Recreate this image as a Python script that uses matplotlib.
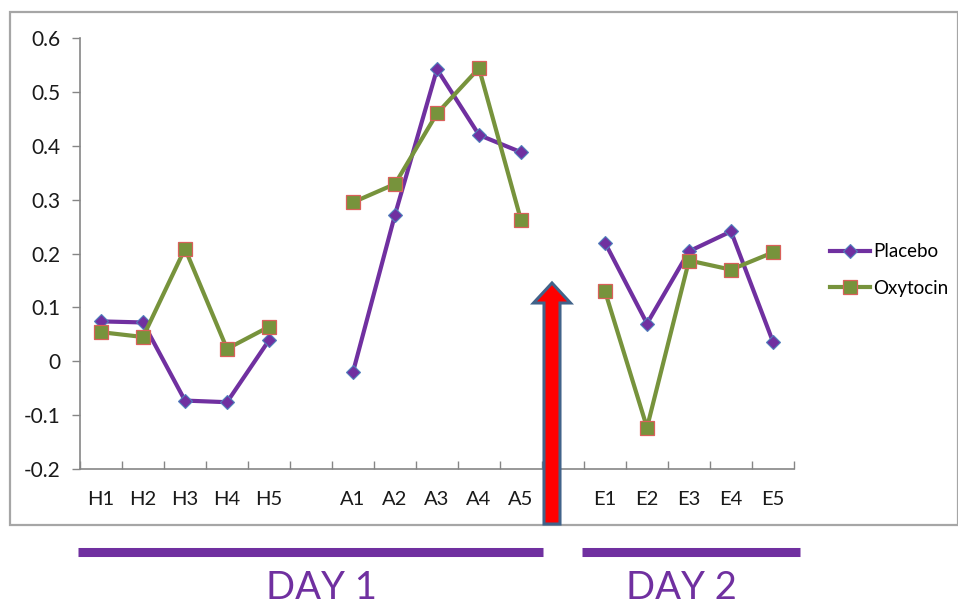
import numpy as np
import matplotlib
matplotlib.use('Agg')
import matplotlib.pyplot as plt
import matplotlib.patches as mpatches
from matplotlib.ticker import FixedLocator

# categories (blank entries are the gaps between sessions)
categories = ['H1', 'H2', 'H3', 'H4', 'H5', '',
              'A1', 'A2', 'A3', 'A4', 'A5', '',
              'E1', 'E2', 'E3', 'E4', 'E5']
nan = np.nan
placebo = [0.074, 0.072, -0.073, -0.076, 0.039, nan,
           -0.020, 0.272, 0.542, 0.420, 0.388, nan,
           0.220, 0.070, 0.204, 0.241, 0.036]
oxytocin = [0.054, 0.045, 0.209, 0.023, 0.064, nan,
            0.295, 0.329, 0.460, 0.544, 0.262, nan,
            0.130, -0.123, 0.187, 0.170, 0.202]
yticks = [-0.2, -0.1, 0, 0.1, 0.2, 0.3, 0.4, 0.5, 0.6]
ytick_labels = ['-0.2', '-0.1', '0', '0.1', '0.2', '0.3', '0.4', '0.5', '0.6']
day_labels = ['DAY 1', 'DAY 2']

purple = '#7030A0'
green = '#77933C'
axis_gray = '#868686'

plt.rcParams['font.family'] = ['Lato', 'DejaVu Sans']

W, H = 958, 607
fig = plt.figure(figsize=(W / 100, H / 100), dpi=100)

def px(x, y):
    # pixel (from top-left) -> figure fraction
    return x / W, 1 - y / H

# outer chart border
border = mpatches.Rectangle(px(10, 525), (958 - 10) / W, (525 - 12) / H,
                            transform=fig.transFigure, fill=False,
                            edgecolor='#a6a6a6', linewidth=1.6)
fig.add_artist(border)

ax = fig.add_axes([80 / W, 1 - 469 / H, (794 - 80) / W, (469 - 38) / H])
x = np.arange(len(categories))
ax.plot(x, placebo, color=purple, linewidth=3, marker='D', markersize=7,
        markerfacecolor=purple, markeredgecolor='#4F81BD', markeredgewidth=0.8,
        label='Placebo')
ax.plot(x, oxytocin, color=green, linewidth=3, marker='s', markersize=9.5,
        markerfacecolor=green, markeredgecolor='#D9605A', markeredgewidth=0.9,
        label='Oxytocin')

ax.set_xlim(-0.5, len(categories) - 0.5)
ax.set_ylim(-0.2, 0.6)
ax.set_yticks(yticks)
ax.set_yticklabels(ytick_labels)
ax.set_xticks(x)
ax.set_xticklabels(categories)
ax.xaxis.set_minor_locator(FixedLocator(np.arange(len(categories) + 1) - 0.5))
ax.tick_params(axis='x', which='major', length=0, pad=16, labelsize=14.5, labelcolor='#1a1a1a')
ax.tick_params(axis='x', which='minor', length=6, direction='in', color=axis_gray, width=1)
ax.tick_params(axis='y', length=6, direction='out', color=axis_gray, width=1,
               pad=8, labelsize=15, labelcolor='#1a1a1a')
for side in ['top', 'right']:
    ax.spines[side].set_visible(False)
for side in ['left', 'bottom']:
    ax.spines[side].set_color(axis_gray)
    ax.spines[side].set_linewidth(1.2)

fig.legend(loc='center left', bbox_to_anchor=px(821, 270), frameon=False,
           fontsize=13.5, borderpad=0, handlelength=2.1, handletextpad=0.2,
           labelspacing=1.05)

# red arrow (drawn in inches so it stays isotropic)
arrow = mpatches.FancyArrow(5.52, (H - 524) / 100, 0, (524 - 283) / 100,
                            width=0.16, head_width=0.37, head_length=0.2,
                            length_includes_head=True,
                            transform=fig.dpi_scale_trans,
                            facecolor='#FF0000', edgecolor='#41638A', linewidth=2.2)
fig.add_artist(arrow)

# day bars and labels
for (x0, x1), label, cx in zip([(78, 543), (582, 800)], day_labels, [321, 681]):
    fig.add_artist(plt.Line2D([x0 / W, x1 / W], [1 - 551.5 / H] * 2,
                              transform=fig.transFigure, color=purple,
                              linewidth=6.5, solid_capstyle='butt'))
    fig.text(cx / W, 1 - 588 / H, label, ha='center', va='center',
             color=purple, fontsize=27.5)

fig.savefig('out.png', dpi=100)
